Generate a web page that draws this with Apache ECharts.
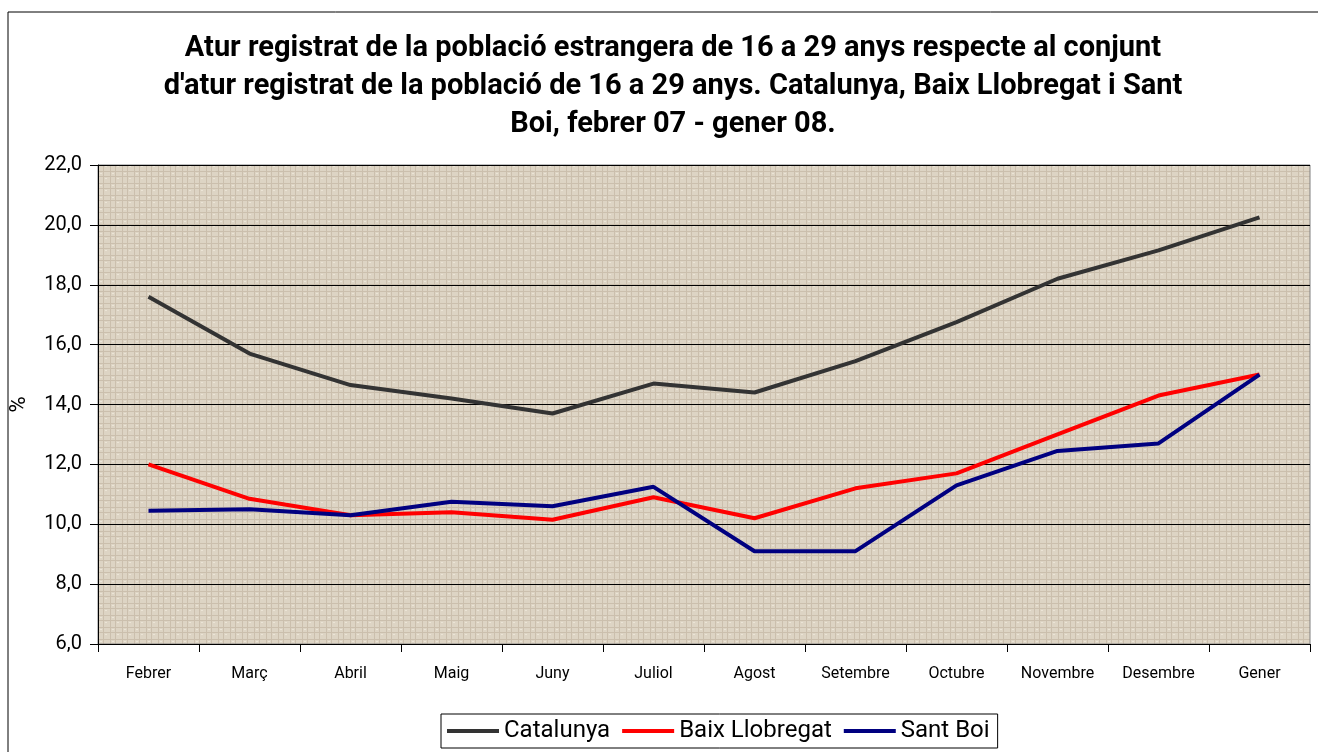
<!DOCTYPE html>
<html>
<head>
<meta charset="utf-8">
<script src="https://cdn.jsdelivr.net/npm/echarts@6/dist/echarts.min.js"></script>
<style>
  html, body { margin: 0; padding: 0; background: #fff; }
  #chart { width: 1318px; height: 752px; }
</style>
</head>
<body>
<div id="chart"></div>
<script>
// mesos febrer 07 - gener 08
var mesos = ['Febrer', 'Març', 'Abril', 'Maig', 'Juny', 'Juliol', 'Agost', 'Setembre', 'Octubre', 'Novembre', 'Desembre', 'Gener'];
var catalunya = [17.6, 15.7, 14.65, 14.2, 13.7, 14.7, 14.4, 15.45, 16.75, 18.2, 19.15, 20.25];
var baixLlobregat = [12.0, 10.85, 10.3, 10.4, 10.15, 10.9, 10.2, 11.2, 11.7, 13.0, 14.3, 15.0];
var santBoi = [10.45, 10.5, 10.3, 10.75, 10.6, 11.25, 9.1, 9.1, 11.3, 12.45, 12.7, 15.0];

// textura de fons (teixit) feta amb un petit canvas
function teixit() {
  var c = document.createElement('canvas');
  c.width = 12; c.height = 12;
  var ctx = c.getContext('2d');
  ctx.fillStyle = '#ddd4c4';
  ctx.fillRect(0, 0, 12, 12);
  ctx.fillStyle = '#cbbfad';
  ctx.fillRect(0, 3, 12, 1);
  ctx.fillRect(0, 8, 12, 1);
  ctx.fillRect(2, 0, 1, 12);
  ctx.fillRect(7, 0, 1, 12);
  ctx.fillStyle = '#ebe4d6';
  ctx.fillRect(4, 5, 2, 1);
  ctx.fillRect(9, 10, 2, 1);
  return c;
}

var myChart = echarts.init(document.getElementById('chart'));

var option = {
  backgroundColor: '#fff',
  animation: false,
  title: {
    text: "Atur registrat de la població estrangera de 16 a 29 anys respecte al conjunt\nd'atur registrat de la població de 16 a 29 anys. Catalunya, Baix Llobregat i Sant\nBoi, febrer 07 - gener 08.",
    left: 668,
    top: 25,
    textAlign: 'center',
    textStyle: {
      fontFamily: 'Roboto',
      fontWeight: 'bold',
      fontSize: 29,
      lineHeight: 38,
      color: '#000'
    }
  },
  grid: {
    left: 98,
    right: 8,
    top: 165,
    bottom: 108,
    show: true,
    backgroundColor: { image: teixit(), repeat: 'repeat' },
    borderColor: '#808080',
    borderWidth: 1
  },
  legend: {
    bottom: 4,
    left: 441,
    itemWidth: 52,
    itemHeight: 4,
    itemGap: 12,
    padding: [5, 8, 5, 6],
    borderColor: '#000',
    borderWidth: 1,
    icon: 'rect',
    textStyle: { fontFamily: 'Roboto', fontSize: 24, color: '#000' },
    data: ['Catalunya', 'Baix Llobregat', 'Sant Boi']
  },
  xAxis: {
    type: 'category',
    data: mesos,
    boundaryGap: true,
    axisLine: { lineStyle: { color: '#000', width: 1 } },
    axisTick: { show: true, interval: 0, length: 8, lineStyle: { color: '#000' } },
    axisLabel: { interval: 0, fontFamily: 'Roboto', fontSize: 16, color: '#000', margin: 22 }
  },
  yAxis: {
    type: 'value',
    min: 6,
    max: 22,
    interval: 2,
    name: '%',
    nameLocation: 'middle',
    nameGap: 68,
    nameRotate: 90,
    nameTextStyle: { fontFamily: 'Roboto', fontSize: 22, color: '#000' },
    axisLine: { show: true, lineStyle: { color: '#000', width: 1 } },
    axisTick: { show: true, length: 8, lineStyle: { color: '#000' } },
    axisLabel: {
      fontFamily: 'Roboto', fontSize: 20, color: '#000', margin: 16,
      formatter: function (v) { return v.toFixed(1).replace('.', ','); }
    },
    splitLine: { show: true, lineStyle: { color: '#000', width: 1 } }
  },
  series: [
    {
      name: 'Catalunya', type: 'line', data: catalunya,
      symbol: 'none', lineStyle: { width: 4, color: '#333333' }, itemStyle: { color: '#333333' }
    },
    {
      name: 'Baix Llobregat', type: 'line', data: baixLlobregat,
      symbol: 'none', lineStyle: { width: 4, color: '#ff0000' }, itemStyle: { color: '#ff0000' }
    },
    {
      name: 'Sant Boi', type: 'line', data: santBoi,
      symbol: 'none', lineStyle: { width: 4, color: '#000080' }, itemStyle: { color: '#000080' }
    }
  ],
  graphic: [
    {
      type: 'polyline',
      shape: { points: [[8, 752], [8, 12], [1318, 12]] },
      style: { stroke: '#000', lineWidth: 1, fill: null },
      silent: true
    }
  ]
};

myChart.setOption(option);
window.onresize = function () {
  myChart.resize();
};
</script>
</body>
</html>
